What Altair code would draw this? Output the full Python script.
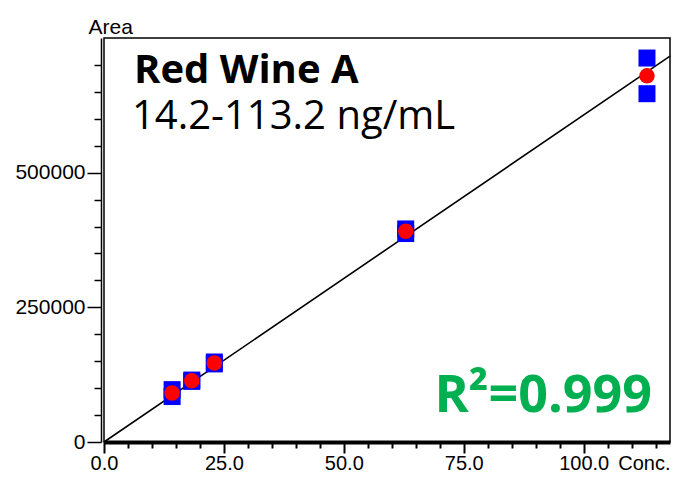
import altair as alt
import numpy as np
import pandas as pd

# ---- data ----
conc = [14.2, 18.3, 23.0, 62.9, 113.2]
area_rep1 = [97200, 112500, 145000, 395500, 712800]
area_rep2 = [84400, 115000, 148500, 387000, 646600]
x_domain = [0, 118]
y_domain = [0, 750000]
x_tick_values = [i * 5 for i in range(24)]
y_tick_values = [i * 50000 for i in range(15)]
title_line1 = "Red Wine A"
title_line2 = "14.2-113.2 ng/mL"
r2_text = "R²=0.999"

reps = pd.DataFrame({
    "conc": conc * 2,
    "area": area_rep1 + area_rep2,
})

# least-squares line through the origin
x_all = np.array(conc * 2)
y_all = np.array(area_rep1 + area_rep2)
slope = float((x_all * y_all).sum() / (x_all ** 2).sum())
line_df = pd.DataFrame({"conc": x_domain, "area": [slope * v for v in x_domain]})

W, H = 566, 404
LABEL_FONT = "Liberation Sans"
TEXT_FONT = "Open Sans"

x_scale = alt.Scale(domain=x_domain, nice=False, zero=True)
y_scale = alt.Scale(domain=y_domain, nice=False, zero=True)

x_axis = alt.Axis(
    values=x_tick_values,
    labelExpr="datum.value % 25 === 0 ? format(datum.value, '.1f') : ''",
    tickSize={"condition": {"test": "datum.value % 25 === 0", "value": 11}, "value": 6},
    tickWidth=2, tickColor="black",
    domainColor="black", domainWidth=4,
    labelFont=LABEL_FONT, labelFontSize=20, labelColor="black",
    labelPadding=0, labelOverlap=False, labelFlush=False,
    grid=False,
    title="Conc.", titleFont=LABEL_FONT, titleFontSize=20, titleFontWeight="normal",
    titleColor="black", titleAlign="right", titleBaseline="top",
    titleX=W, titleY=11, titleAnchor="end",
)
y_axis = alt.Axis(
    values=y_tick_values,
    labelExpr="datum.value % 250000 === 0 ? format(datum.value, 'd') : ''",
    tickSize={"condition": {"test": "datum.value % 250000 === 0", "value": 14}, "value": 7},
    tickWidth=1.5, tickColor="black",
    domainColor="black", domainWidth=1.5, offset=3,
    labelFont=LABEL_FONT, labelFontSize=21, labelColor="black",
    labelPadding=2, labelOverlap=False, labelFlush=False,
    grid=False,
    title="Area", titleFont=LABEL_FONT, titleFontSize=21, titleFontWeight="normal",
    titleColor="black", titleAngle=0, titleAlign="left", titleBaseline="alphabetic",
    titleX=-13, titleY=-5,
)

x_enc = alt.X("conc:Q", scale=x_scale, axis=x_axis)
y_enc = alt.Y("area:Q", scale=y_scale, axis=y_axis)

line = alt.Chart(line_df).mark_line(color="black", strokeWidth=1.6).encode(
    x=x_enc, y=y_enc
)

squares = alt.Chart(reps).mark_square(
    size=289, color="#0000FF", opacity=1
).encode(x=x_enc, y=y_enc)

means = alt.Chart(reps).mark_circle(
    size=240, color="#FF0000", opacity=1
).encode(
    x=x_enc,
    y=alt.Y("mean(area):Q", scale=y_scale, axis=y_axis),
)

t1 = alt.Chart(pd.DataFrame({"t": [title_line1]})).mark_text(
    font=TEXT_FONT, fontSize=40, fontWeight="bold", color="black",
    align="left", baseline="alphabetic"
).encode(x=alt.value(30), y=alt.value(45), text="t:N")

t2 = alt.Chart(pd.DataFrame({"t": [title_line2]})).mark_text(
    font=TEXT_FONT, fontSize=40, fontWeight="normal", color="black",
    align="left", baseline="alphabetic"
).encode(x=alt.value(28), y=alt.value(91), text="t:N")

t3 = alt.Chart(pd.DataFrame({"t": [r2_text]})).mark_text(
    font=TEXT_FONT, fontSize=52, fontWeight="bold", color="#00B050",
    align="right", baseline="alphabetic"
).encode(x=alt.value(548), y=alt.value(374), text="t:N")

chart = alt.layer(line, squares, means, t1, t2, t3).properties(
    width=W, height=H,
    autosize=alt.AutoSizeParams(type="none"),
    padding={"left": 96, "top": 30, "right": 1, "bottom": 31},
).configure_view(
    stroke="black", strokeWidth=1.5
)

chart.save("out.html", embed_options={"renderer": "svg", "actions": False})
